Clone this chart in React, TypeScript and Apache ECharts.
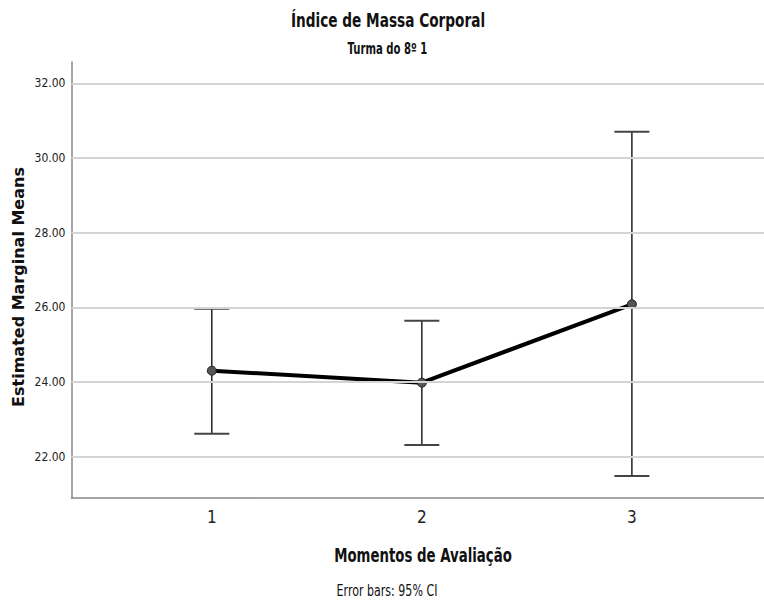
import React, { useEffect, useRef } from "react";
import * as echarts from "echarts";

const moments = [1, 2, 3];
const means = [24.3, 23.98, 26.08];
const ciLower = [22.61, 22.31, 21.48];
const ciUpper = [25.96, 25.64, 30.7];
const yTicks = [22, 24, 26, 28, 30, 32];

const NARROW = '"DejaVu Sans Condensed", "DejaVu Sans", sans-serif';

function label(text: string, x: number, y: number, size: number, bold: boolean, scaleX: number, rotation = 0) {
  return {
    type: "text",
    x,
    y,
    scaleX,
    rotation,
    style: {
      text,
      fontFamily: NARROW,
      fontSize: size,
      fontWeight: bold ? "bold" : "normal",
      fill: "#111",
      textAlign: "center",
      textVerticalAlign: "middle",
    },
  };
}

export default function App() {
  const ref = useRef<HTMLDivElement>(null);
  useEffect(() => {
    if (!ref.current) return;
    const chart = echarts.init(ref.current, null, { renderer: "svg" });
    const option: any = {
      animation: false,
      backgroundColor: "#ffffff",
      grid: { left: 71.5, right: 0, top: 62, bottom: 105 },
      xAxis: {
        type: "value",
        min: 0.332,
        max: 3.629,
        axisLine: { show: true, lineStyle: { color: "#888", width: 1.5 } },
        axisTick: { show: false },
        splitLine: { show: false },
        axisLabel: {
          customValues: moments,
          fontFamily: NARROW,
          fontSize: 17,
          color: "#222",
          margin: 10,
        },
      },
      yAxis: {
        type: "value",
        min: 20.89,
        max: 32.57,
        axisLine: { show: true, lineStyle: { color: "#888", width: 1.5 } },
        axisTick: { show: false },
        splitLine: { show: false },
        axisLabel: {
          customValues: yTicks,
          formatter: (v: number) => v.toFixed(2),
          fontFamily: NARROW,
          fontSize: 12,
          color: "#222",
          margin: 6,
        },
      },
      graphic: [
        label("Índice de Massa Corporal", 388, 20, 20, true, 0.76),
        label("Turma do 8º 1", 387.5, 49, 15, true, 0.75),
        label("Momentos de Avaliação", 423, 555, 19, true, 0.78),
        label("Error bars: 95% CI", 387, 591, 15, false, 0.82),
        {
          type: "text",
          x: 18,
          y: 287,
          rotation: Math.PI / 2,
          style: {
            text: "Estimated Marginal Means",
            fontFamily: '"DejaVu Sans", sans-serif',
            fontSize: 16,
            fontWeight: "bold",
            fill: "#111",
            textAlign: "center",
            textVerticalAlign: "middle",
          },
        },
      ],
      series: [
        {
          type: "line",
          data: [],
          z: 1,
          silent: true,
          markLine: {
            silent: true,
            symbol: "none",
            label: { show: false },
            lineStyle: { color: "#d4d4d4", width: 2, type: "solid" },
            data: yTicks.map((t) => ({ yAxis: t })),
          },
        },
        {
          type: "custom",
          z: 3,
          data: moments.map((m, i) => [m, ciLower[i], ciUpper[i]]),
          renderItem: (params: any, api: any) => {
            const x = api.value(0);
            const lo = api.coord([x, api.value(1)]);
            const hi = api.coord([x, api.value(2)]);
            const hw = 17.5;
            const cap = { stroke: "#444", lineWidth: 2 };
            return {
              type: "group",
              children: [
                { type: "line", shape: { x1: lo[0], y1: lo[1], x2: hi[0], y2: hi[1] }, style: { stroke: "#222", lineWidth: 1.5 } },
                { type: "line", shape: { x1: lo[0] - hw, y1: lo[1], x2: lo[0] + hw, y2: lo[1] }, style: cap },
                { type: "line", shape: { x1: hi[0] - hw, y1: hi[1], x2: hi[0] + hw, y2: hi[1] }, style: cap },
              ],
            };
          },
        },
        {
          type: "line",
          z: 4,
          data: moments.map((m, i) => [m, means[i]]),
          symbol: "circle",
          symbolSize: 9,
          lineStyle: { color: "#000", width: 4 },
          itemStyle: { color: "#555", borderColor: "#222", borderWidth: 1 },
        },
      ],
    };
    chart.setOption(option);
    return () => chart.dispose();
  }, []);
  return (
    <div
      ref={ref}
      style={{ position: "fixed", left: 0, top: 0, width: 764, height: 603, background: "#fff" }}
    />
  );
}
